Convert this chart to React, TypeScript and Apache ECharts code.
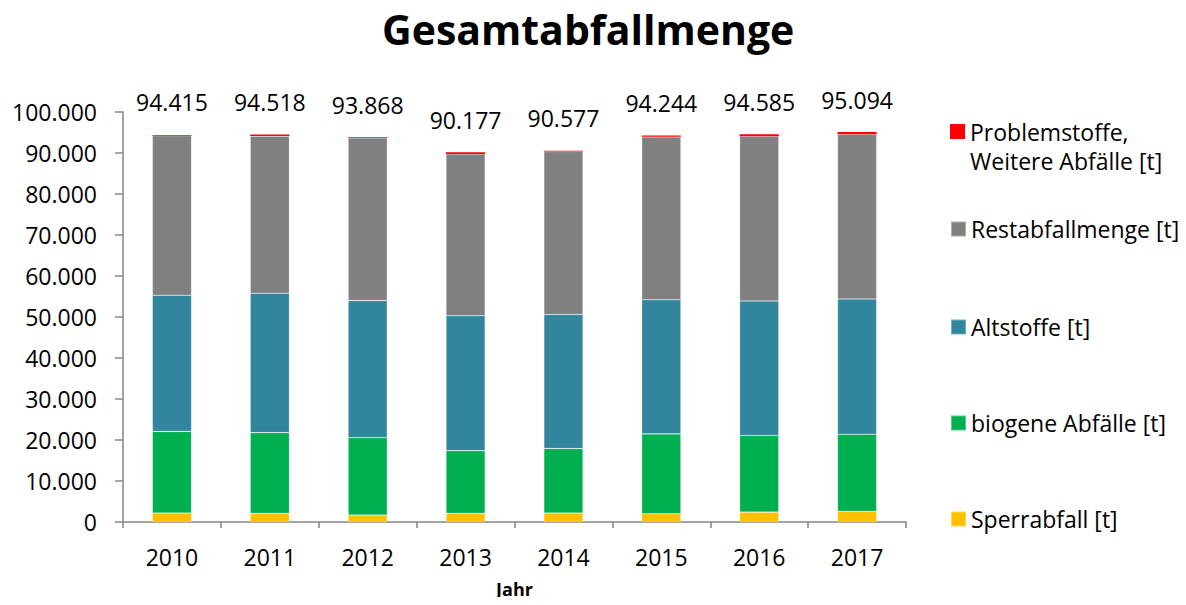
import React, { useEffect, useRef } from "react";
import * as echarts from "echarts";

const years = ["2010", "2011", "2012", "2013", "2014", "2015", "2016", "2017"];
const sperrabfall = [2200, 2100, 1700, 2100, 2200, 2000, 2400, 2600];
const biogene = [19900, 19700, 18900, 15300, 15700, 19500, 18700, 18800];
const altstoffe = [33200, 34000, 33400, 32900, 32700, 32700, 32800, 33000];
const restabfall = [38915, 38318, 39668, 39477, 39777, 39744, 40185, 40194];
const problemstoffe = [200, 400, 200, 400, 200, 300, 500, 500];
const totals = [94415, 94518, 93868, 90177, 90577, 94244, 94585, 95094];
const yTicks = [0, 10000, 20000, 30000, 40000, 50000, 60000, 70000, 80000, 90000, 100000];

const seriesNames = [
  "Sperrabfall [t]",
  "biogene Abfälle [t]",
  "Altstoffe [t]",
  "Restabfallmenge [t]",
  "Problemstoffe, Weitere Abfälle [t]",
];
const colors = ["#FFC000", "#00B050", "#31859C", "#808080", "#FF0000"];

const FONT = "'Open Sans', sans-serif";

function fmt(v: number): string {
  return String(Math.round(v)).replace(/\B(?=(\d{3})+(?!\d))/g, ".");
}

export default function App() {
  const ref = useRef<HTMLDivElement>(null);
  useEffect(() => {
    if (!ref.current) return;
    const chart = echarts.init(ref.current, undefined, { renderer: "svg" });
    const dataSets = [sperrabfall, biogene, altstoffe, restabfall, problemstoffe];
    const legendTops = [504.5, 408.5, 312.5, 214.5, 88];
    const option: any = {
      animation: false,
      title: {
        text: "Gesamtabfallmenge",
        left: 382,
        top: 8,
        padding: 0,
        textStyle: { fontFamily: FONT, fontSize: 41, fontWeight: "bold", color: "#000" },
      },
      grid: { left: 123, right: 280, top: 112, bottom: 83, outerBoundsMode: "none", containLabel: false },
      legend: dataSets.map((_, i) => ({
        data: [seriesNames[i]],
        left: 950,
        top: legendTops[i],
        padding: 0,
        itemWidth: 15,
        itemHeight: 15,
        icon: "rect",
        selectedMode: false,
        formatter: (name: string) =>
          name === seriesNames[4] ? "\nProblemstoffe,\nWeitere Abfälle [t]" : name,
        textStyle: { fontFamily: FONT, fontSize: 23, color: "#000", lineHeight: 29 },
      })),
      xAxis: {
        type: "category",
        data: years,
        name: "Jahr",
        nameLocation: "middle",
        nameGap: 58,
        nameTextStyle: { fontFamily: FONT, fontSize: 18, fontWeight: "bold", color: "#000" },
        axisLine: { lineStyle: { color: "#868686", width: 1.5 } },
        axisTick: { show: true, length: 6, lineStyle: { color: "#868686", width: 1.5 } },
        axisLabel: { fontFamily: FONT, fontSize: 23, color: "#000", margin: 23 },
      },
      yAxis: {
        type: "value",
        min: 0,
        max: 100000,
        interval: 10000,
        axisLine: { show: true, lineStyle: { color: "#868686", width: 1.5 } },
        axisTick: { show: true, length: 8, lineStyle: { color: "#868686", width: 1.5 } },
        splitLine: { show: false },
        axisLabel: {
          fontFamily: FONT,
          fontSize: 23,
          color: "#000",
          margin: 26,
          formatter: (v: number) => (yTicks.includes(v) ? fmt(v) : ""),
        },
      },
      series: dataSets.map((d, i) => ({
        name: seriesNames[i],
        type: "bar",
        stack: "total",
        barWidth: "40%",
        data: d,
        itemStyle:
          i === 4
            ? { color: colors[i] }
            : { color: colors[i], borderColor: "rgba(255,255,255,0.35)", borderWidth: 0.6 },
        label:
          i === 4
            ? {
                show: true,
                position: "top",
                distance: 21,
                fontFamily: FONT,
                fontSize: 23,
                color: "#000",
                formatter: (p: any) => fmt(totals[p.dataIndex]),
              }
            : { show: false },
      })),
    };
    chart.setOption(option);
    return () => chart.dispose();
  }, []);
  return <div ref={ref} style={{ width: 1186, height: 605, margin: "-8px" }} />;
}
